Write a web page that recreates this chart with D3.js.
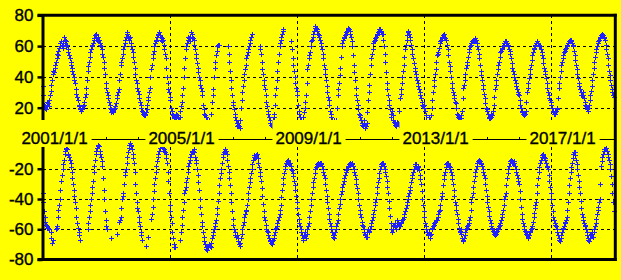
<!DOCTYPE html>
<html>
<head>
<meta charset="utf-8">
<script src="https://cdn.jsdelivr.net/npm/d3@7/dist/d3.min.js"></script>
<style>
  body { margin: 0; background: #ffff00; overflow: hidden; }
  #chart text { font-family: "Liberation Sans", Arial, sans-serif; font-size: 17px; fill: #000;
                stroke: #000; stroke-width: 0.35px; }
</style>
</head>
<body>
<div id="chart"></div>
<script>
// one row per year, four readings per month (days below); null = no data
const years = [2001, 2002, 2003, 2004, 2005, 2006, 2007, 2008, 2009,
               2010, 2011, 2012, 2013, 2014, 2015, 2016, 2017, 2018];
const slotDays = [4, 12, 20, 27];

const upperValues = [
    [34,28,22,20, 21,19,24,22, 23,21,25,28, 31,35,38,42, 44,43,46,48, 50,52,55,54, 57,59,60,62, 63,61,59,62, 66,64,62,60, 63,61,58,56, 54,52,50,48, 46,44,42,40],
    [38,36,32,29, 27,25,22,21, 20,19,18,20, 19,21,22,24, 27,29,33,38, 44,47,50,53, 56,58,60,61, 62,64,65,67, 68,66,64,63, 66,64,62,61, 60,58,55,53, 50,46,42,36],
    [33,30,28,26, 24,22,20,19, 17,18,18,17, 19,20,21,23, 26,28,30,32, 38,42,48,50, 52,55,58,60, 62,64,66,68, 69,66,64,65, 66,62,60,58, 56,53,50,46, 42,38,36,33],
    [31,29,26,24, 22,20,18,17, 16,15,15,16, 17,19,22,25, 27,30,33,40, 45,48,52,55, 57,60,62,63, 64,66,67,68, 69,67,66,64, 63,65,64,61, 58,55,52,46, 40,36,32,30],
    [27,25,20,18, 16,15,14,13, 13,14,16,15, 14,13,12,14, 18,21,24,28, 33,40,46,52, 58,60,62,64, 66,65,63,66, 69,68,66,65, 64,61,58,55, 52,49,46,43, 40,38,35,33],
    [31,28,22,19, 16,15,14,12, 12,11,10,11, 12,10,9,16, 24,28,32,40, 46,50,54,57, 60,61,61,null, null,null,null,null, null,null,null,null, null,null,null,null, 60,55,50,44, 38,33,28,24],
    [22,19,16,14, 12,10,8,9, 10,8,7,12, 20,25,30,34, 38,42,45,48, 52,54,56,58, 60,62,64,66, 68,null,null,null, null,null,null,null, null,null,null,null, 60,58,55,50, 45,42,38,35],
    [32,28,24,21, 18,16,14,12, 10,9,8,10, 12,14,16,22, 28,33,38,44, 50,55,60,62, 64,66,68,70, 71,null,null,null, null,null,null,null, null,null,null,null, 63,58,52,48, 44,40,36,33],
    [31,28,22,18, 16,14,12,11, 10,12,14,17, 20,24,28,36, 45,48,52,54, 56,60,63,64, 66,68,70,72, 73,72,71,70, 68,67,66,64, 62,60,58,55, 52,48,45,42, 38,34,30,27],
    [25,22,18,16, 14,12,10,11, 12,10,8,9, 12,20,28,32, 36,41,46,53, 60,62,64,65, 66,67,68,69, 70,71,72,71, 70,68,66,63, 60,54,48,43, 38,33,28,25, 22,19,16,15],
    [14,12,10,9, 8,10,12,9, 7,8,10,17, 25,30,35,42, 48,52,55,58, 62,63,64,65, 66,67,68,69, 70,71,71,70, 69,68,68,64, 60,55,50,43, 36,32,28,25, 22,19,16,14],
    [18,15,12,11, 10,9,8,10, 11,10,9,18, 26,29,32,36, 40,44,48,53, 58,61,64,67, 70,69,68,66, 64,61,58,55, 52,49,46,44, 42,40,38,36, 34,32,30,28, 26,24,22,21],
    [22,20,18,15, 12,10,9,11, 14,12,10,15, 20,25,30,34, 38,42,45,50, 54,55,56,59, 62,63,64,65, 66,67,68,66, 65,64,64,61, 58,54,50,47, 44,40,36,33, 30,28,26,24],
    [23,20,16,15, 14,13,12,13, 13,15,18,26, 33,35,38,42, 46,48,50,53, 56,58,60,61, 62,63,64,63, 63,64,65,64, 62,60,58,55, 52,48,44,41, 38,35,32,29, 26,23,20,19],
    [18,16,14,13, 13,14,16,15, 15,18,22,27, 32,35,38,42, 45,48,50,53, 56,57,58,59, 60,61,62,63, 63,62,62,61, 60,58,57,55, 52,49,46,44, 42,40,38,36, 34,32,30,29],
    [28,25,22,20, 18,17,16,15, 15,16,18,24, 30,33,36,39, 42,45,48,51, 54,56,58,59, 60,61,62,63, 63,62,61,60, 60,58,56,54, 52,49,46,44, 42,39,36,33, 30,28,26,25],
    [24,22,20,18, 17,16,16,17, 18,19,20,26, 33,36,40,44, 48,50,52,54, 56,57,58,59, 60,61,62,63, 63,64,64,63, 62,61,60,57, 54,51,48,45, 42,39,36,34, 32,30,28,28],
    [30,28,26,24, 22,21,20,19, 18,20,22,25, 28,31,34,38, 42,46,50,53, 56,58,60,62, 63,64,65,66, 67,68,68,67, 66,65,64,61, 58,55,52,48, 44,41,38,35, 32,30,28,27]
];

const lowerValues = [
    [-36,-42,-48,-52, -55,-57,-58,-59, -59,-60,null,null, -62,-66,-69,null, -67,null,null,null, -60,-59,-58,-52, -47,-44,-40,-34, -28,-24,-20,-17, -14,-10,-8,-7, -6,-7,-10,-11, -12,-14,-16,-19, -22,-26,-30,-34],
    [-38,-42,-46,-52, -56,-59,-62,-64, -67,null,null,null, null,null,null,null, null,null,null,null, -60,-56,-52,-48, -44,-40,-36,-32, -28,-22,-18,-14, -10,-8,-6,-5, -4,-5,-8,-10, -12,-15,-18,-26, -34,-40,-48,-54],
    [-58,-60,null,null, null,null,null,null, -66,null,null,null, null,null,null,null, -63,null,null,null, -55,-54,-52,-46, -40,-38,-36,-30, -24,-22,-20,-16, -12,-9,-6,-4, -3,-4,-5,-7, -10,-13,-16,-22, -30,-36,-42,-46],
    [-48,-52,-55,-58, -62,-64,-67,null, null,null,null,null, -71,null,null,null, -65,null,null,null, -53,-50,-45,-40, -35,-30,-26,-22, -18,-15,-12,-10, -8,-6,-5,-4, -3,-4,-6,-7, -8,-9,-10,-13, -16,-22,-28,-36],
    [-44,-48,-52,-56, -62,-66,-70,-72, -72,null,null,null, null,null,null,null, -67,-62,-57,-52, -47,-42,-36,-34, -32,-29,-26,-22, -18,-16,-14,-12, -10,-9,-8,-8, -7,-9,-12,-14, -16,-20,-24,-29, -34,-40,-45,-50],
    [-55,-58,-62,-65, -68,-70,-72,-73, -74,-72,-71,-70, -70,-71,-72,-69, -66,-64,-62,-60, -58,-56,-54,-50, -46,-41,-36,-31, -26,-23,-20,-16, -12,-10,-9,-8, -7,-8,-10,-14, -18,-22,-26,-31, -36,-42,-48,-53],
    [-57,-60,-62,-64, -65,-64,-64,-66, -68,-70,-71,-69, -66,-63,-60,-57, -55,-52,-50,-48, -47,-44,-40,-36, -32,-29,-26,-23, -20,-17,-14,-12, -11,-12,-12,-11, -10,-13,-16,-19, -22,-25,-28,-33, -38,-43,-48,-52],
    [-54,-57,-60,-61, -62,-64,-66,-67, -68,-69,-70,-68, -67,-66,-64,-62, -60,-59,-58,-56, -54,-52,-50,-47, -44,-39,-34,-30, -26,-23,-20,-18, -16,-15,-14,-16, -17,-16,-16,-18, -20,-21,-23,-25, -28,-31,-34,-38],
    [-42,-46,-50,-53, -56,-58,-60,-62, -64,-66,-67,-64, -62,-64,-66,-63, -60,-58,-56,-52, -48,-44,-40,-36, -32,-29,-26,-23, -20,-19,-18,-17, -16,-17,-17,-16, -16,-17,-18,-20, -22,-24,-26,-30, -34,-38,-42,-46],
    [-50,-53,-56,-58, -60,-62,-64,-65, -66,-64,-62,-60, -58,-56,-54,-50, -46,-43,-40,-37, -35,-32,-30,-28, -26,-24,-22,-21, -20,-19,-18,-17, -16,-16,-17,-17, -16,-18,-20,-22, -24,-27,-30,-33, -36,-40,-44,-47],
    [-50,-52,-55,-57, -58,-60,-62,-63, -64,-65,-65,-62, -60,-61,-62,-60, -58,-56,-54,-52, -50,-47,-44,-42, -40,-36,-32,-29, -26,-23,-20,-18, -17,-16,-16,-17, -18,-20,-22,-25, -28,-32,-36,-41, -46,-51,-56,-60],
    [-62,-60,-58,-57, -56,-58,-60,-57, -54,-56,-57,-58, -58,-56,-55,-54, -54,-53,-52,-50, -48,-46,-44,-42, -40,-38,-36,-34, -32,-29,-26,-24, -22,-20,-18,-17, -17,-18,-20,-19, -18,-21,-24,-27, -30,-35,-40,-44],
    [-48,-52,-56,-58, -60,-62,-64,-63, -62,-64,-66,-63, -60,-59,-58,-57, -56,-55,-54,-54, -54,-52,-50,-48, -47,-44,-40,-38, -36,-31,-27,-24, -22,-19,-17,-16, -16,-17,-18,-19, -20,-22,-24,-27, -30,-34,-38,-42],
    [-44,-47,-50,-53, -56,-59,-62,-61, -60,-63,-66,-67, -68,-66,-64,-62, -60,-59,-58,-57, -56,-54,-52,-47, -42,-39,-36,-32, -28,-25,-22,-20, -18,-16,-15,-14, -14,-15,-16,-17, -18,-20,-22,-24, -26,-30,-34,-38],
    [-42,-45,-48,-51, -54,-56,-58,-59, -60,-61,-62,-63, -64,-63,-62,-61, -60,-59,-58,-57, -56,-54,-52,-50, -47,-44,-40,-38, -36,-31,-26,-23, -20,-18,-16,-15, -14,-15,-16,-16, -15,-16,-18,-20, -22,-24,-26,-28],
    [-30,-35,-40,-45, -50,-53,-56,-58, -60,-61,-62,-63, -64,-65,-66,-64, -62,-61,-60,-59, -58,-55,-52,-49, -46,-44,-42,-36, -31,-26,-22,-19, -16,-14,-12,-11, -10,-11,-12,-13, -14,-16,-18,-19, -20,-24,-28,-32],
    [-36,-40,-44,-48, -52,-54,-56,-57, -58,-60,-62,-64, -66,-67,-68,-66, -64,-62,-60,-59, -58,-56,-55,-54, -52,-47,-42,-36, -31,-26,-22,-19, -16,-13,-10,-9, -9,-11,-14,-17, -20,-24,-28,-32, -36,-41,-46,-50],
    [-52,-54,-56,-57, -58,-60,-62,-64, -66,-67,-68,-66, -64,-63,-62,-63, -65,-62,-60,-58, -56,-53,-50,-47, -45,-42,-40,-30, -18,-15,-12,-10, -8,-7,-7,-6, -6,-8,-10,-12, -14,-17,-20,-25, -30,-36,-42,-48]
];

const upperTicks = [20, 40, 60, 80];
const lowerTicks = [-20, -40, -60, -80];
const labelYears = [2001, 2005, 2009, 2013, 2017];
const gridYears = [2005, 2009, 2013, 2017];

const markColor = "#1f1fff";

function flatten(rows) {
    let out = [];
    years.forEach(function(yr, i) {
        rows[i].forEach(function(v, k) {
            if (v !== null) {
                out.push({date: new Date(yr, Math.floor(k / 4), slotDays[k % 4]), value: v});
            }
        });
    });
    return out;
}

function render_chart() {
    const width = 621;
    const height = 280;

    let svg = d3.select('#chart')
        .append("svg")
        .attr("width", width)
        .attr("height", height);

    svg.append("rect")
        .attr("width", width)
        .attr("height", height)
        .attr("fill", "#ffff00");

    // shared time axis, two stacked value scales meeting at zero
    let x = d3.scaleTime()
        .domain([new Date(2001, 0, 1), new Date(2019, 0, 1)])
        .range([42.5, 614]);
    let yTop = d3.scaleLinear().domain([0, 80]).range([138.5, 15.3]);
    let yBot = d3.scaleLinear().domain([-80, 0]).range([259.5, 138.5]);

    const x0 = x.range()[0], x1 = x.range()[1];

    // dotted grid
    let grid = svg.append("g")
        .attr("stroke", "#000")
        .attr("stroke-width", 1)
        .attr("stroke-dasharray", "3,3")
        .attr("shape-rendering", "crispEdges");

    upperTicks.filter(t => t < 80).forEach(function(t) {
        let yy = Math.round(yTop(t)) + 0.5;
        grid.append("line").attr("x1", x0).attr("x2", x1).attr("y1", yy).attr("y2", yy);
    });
    lowerTicks.filter(t => t > -80).forEach(function(t) {
        let yy = Math.round(yBot(t)) + 0.5;
        grid.append("line").attr("x1", x0).attr("x2", x1).attr("y1", yy).attr("y2", yy);
    });
    gridYears.forEach(function(yr) {
        let xx = Math.round(x(new Date(yr, 0, 1))) + 0.5;
        grid.append("line").attr("x1", xx).attr("x2", xx)
            .attr("y1", yTop(80)).attr("y2", yBot(-80));
    });

    // markers
    let marks = svg.append("g")
        .attr("stroke", markColor)
        .attr("stroke-width", 1)
        .attr("fill", "none")
        .attr("shape-rendering", "crispEdges");

    function crosses(data, yScale) {
        marks.selectAll(null)
            .data(data)
            .enter()
            .append("path")
            .attr("d", function(d) {
                let px = Math.round(x(d.date));
                let py = Math.round(yScale(d.value));
                return "M" + (px - 2) + "," + (py + 0.5) + "h5M" + (px + 0.5) + "," + (py - 2) + "v5";
            });
    }
    crosses(flatten(upperValues), yTop);
    crosses(flatten(lowerValues), yBot);

    // middle time axis (thin line with year ticks)
    let mid = svg.append("g")
        .attr("transform", "translate(0," + 138.5 + ")")
        .call(d3.axisTop(x)
            .ticks(d3.timeYear.every(1))
            .tickSize(2)
            .tickSizeOuter(0)
            .tickFormat(""));
    mid.selectAll("path, line").attr("stroke", "#000").attr("shape-rendering", "crispEdges");

    // left value axes, plain hyphen minus like the original
    function leftAxis(scale, ticks) {
        let g = svg.append("g")
            .attr("transform", "translate(" + x0 + ",0)")
            .call(d3.axisLeft(scale)
                .tickValues(ticks)
                .tickSize(5)
                .tickSizeOuter(0)
                .tickPadding(4)
                .tickFormat(d => String(d)));
        g.attr("font-size", null).attr("font-family", null);
        g.select(".domain").attr("stroke", "#000").attr("stroke-width", 3);
        g.selectAll(".tick line").attr("stroke", "#000").attr("stroke-width", 2.5);
        g.selectAll(".tick text").attr("fill", "#000");
        return g;
    }
    leftAxis(yTop, upperTicks);
    leftAxis(yBot, lowerTicks);

    // frame: top, bottom, right
    let frame = svg.append("g").attr("stroke", "#000").attr("stroke-width", 3);
    frame.append("line")
        .attr("x1", x0 - 5).attr("x2", x1 + 2.8)
        .attr("y1", yTop(80)).attr("y2", yTop(80));
    frame.append("line")
        .attr("x1", x0 - 5).attr("x2", x1 + 2.8)
        .attr("y1", yBot(-80)).attr("y2", yBot(-80));
    frame.append("line")
        .attr("x1", x1 + 1.3).attr("x2", x1 + 1.3)
        .attr("y1", yTop(80) - 1.5).attr("y2", yBot(-80) + 1.5);

    // date labels sitting on the middle axis, with a yellow patch behind
    let labels = svg.append("g");
    labelYears.forEach(function(yr) {
        let lg = labels.append("g");
        let t = lg.append("text")
            .attr("x", x(new Date(yr, 0, 1)) + 12)
            .attr("y", 143.5)
            .attr("text-anchor", "middle")
            .text(yr + "/1/1");
        let bb = t.node().getBBox();
        lg.insert("rect", "text")
            .attr("x", bb.x - 3)
            .attr("y", 120)
            .attr("width", bb.width + 7)
            .attr("height", 27)
            .attr("fill", "#ffff00");
    });
}

render_chart();
</script>
</body>
</html>
